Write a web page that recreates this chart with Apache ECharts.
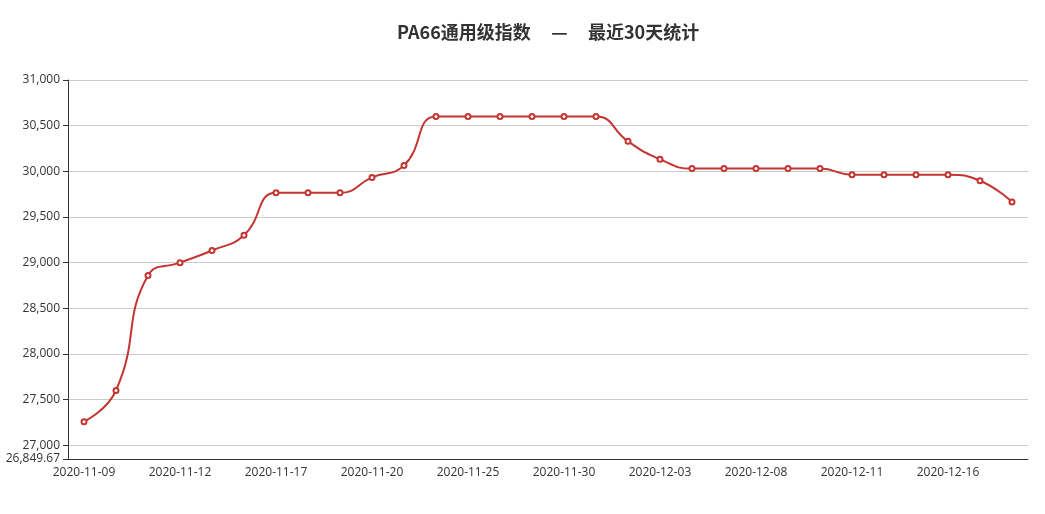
<!DOCTYPE html>
<html>
<head>
<meta charset="utf-8">
<script src="https://cdn.jsdelivr.net/npm/echarts@6/dist/echarts.min.js"></script>
<style>html,body{margin:0;padding:0;background:#fff;}#main{width:1045px;height:514px;}</style>
</head>
<body>
<div id="main"></div>
<script>
var categories = ['2020-11-09','2020-11-10','2020-11-11','2020-11-12','2020-11-13','2020-11-16','2020-11-17','2020-11-18','2020-11-19','2020-11-20','2020-11-23','2020-11-24','2020-11-25','2020-11-26','2020-11-27','2020-11-30','2020-12-01','2020-12-02','2020-12-03','2020-12-04','2020-12-07','2020-12-08','2020-12-09','2020-12-10','2020-12-11','2020-12-14','2020-12-15','2020-12-16','2020-12-17','2020-12-18'];
var values = [27258.55,27600,28860,29000,29133,29300,29765,29765,29765,29933,30065,30600,30600,30600,30600,30600,30600,30328,30131,30030,30030,30030,30030,30030,29963,29963,29963,29963,29897,29663];
var yMin = 26849.67;
var yMax = 31000;
var titleText = 'PA66通用级指数     —     最近30天统计';

var chart = echarts.init(document.getElementById('main'));
chart.setOption({
  animation: false,
  backgroundColor: '#fff',
  title: {
    text: titleText,
    left: 392,
    top: 18,
    textStyle: {fontSize: 18, fontWeight: 'bold', color: '#333', fontFamily: '"Noto Sans CJK SC", "Open Sans", sans-serif'}
  },
  grid: {left: 68, right: 17, top: 80, bottom: 55, containLabel: false},
  xAxis: {
    type: 'category',
    data: categories,
    boundaryGap: true,
    axisLine: {lineStyle: {color: '#333'}},
    axisTick: {interval: function (i) { return i % 3 === 2; }, lineStyle: {color: '#333'}},
    axisLabel: {interval: 2, color: '#333', fontSize: 12, fontFamily: '"Open Sans", sans-serif'}
  },
  yAxis: {
    type: 'value',
    min: yMin,
    max: yMax,
    splitNumber: 8,
    axisLine: {show: true, lineStyle: {color: '#333'}},
    axisTick: {show: true, lineStyle: {color: '#333'}},
    axisLabel: {color: '#333', fontSize: 12, fontFamily: '"Open Sans", sans-serif'},
    splitLine: {show: true, lineStyle: {color: '#ccc'}}
  },
  series: [{
    type: 'line',
    data: values,
    smooth: true,
    symbol: 'emptyCircle',
    symbolSize: 5,
    lineStyle: {width: 2, color: '#c23531'},
    itemStyle: {color: '#c23531', borderColor: '#dd7b7b', borderWidth: 1}
  }]
});
</script>
</body>
</html>
